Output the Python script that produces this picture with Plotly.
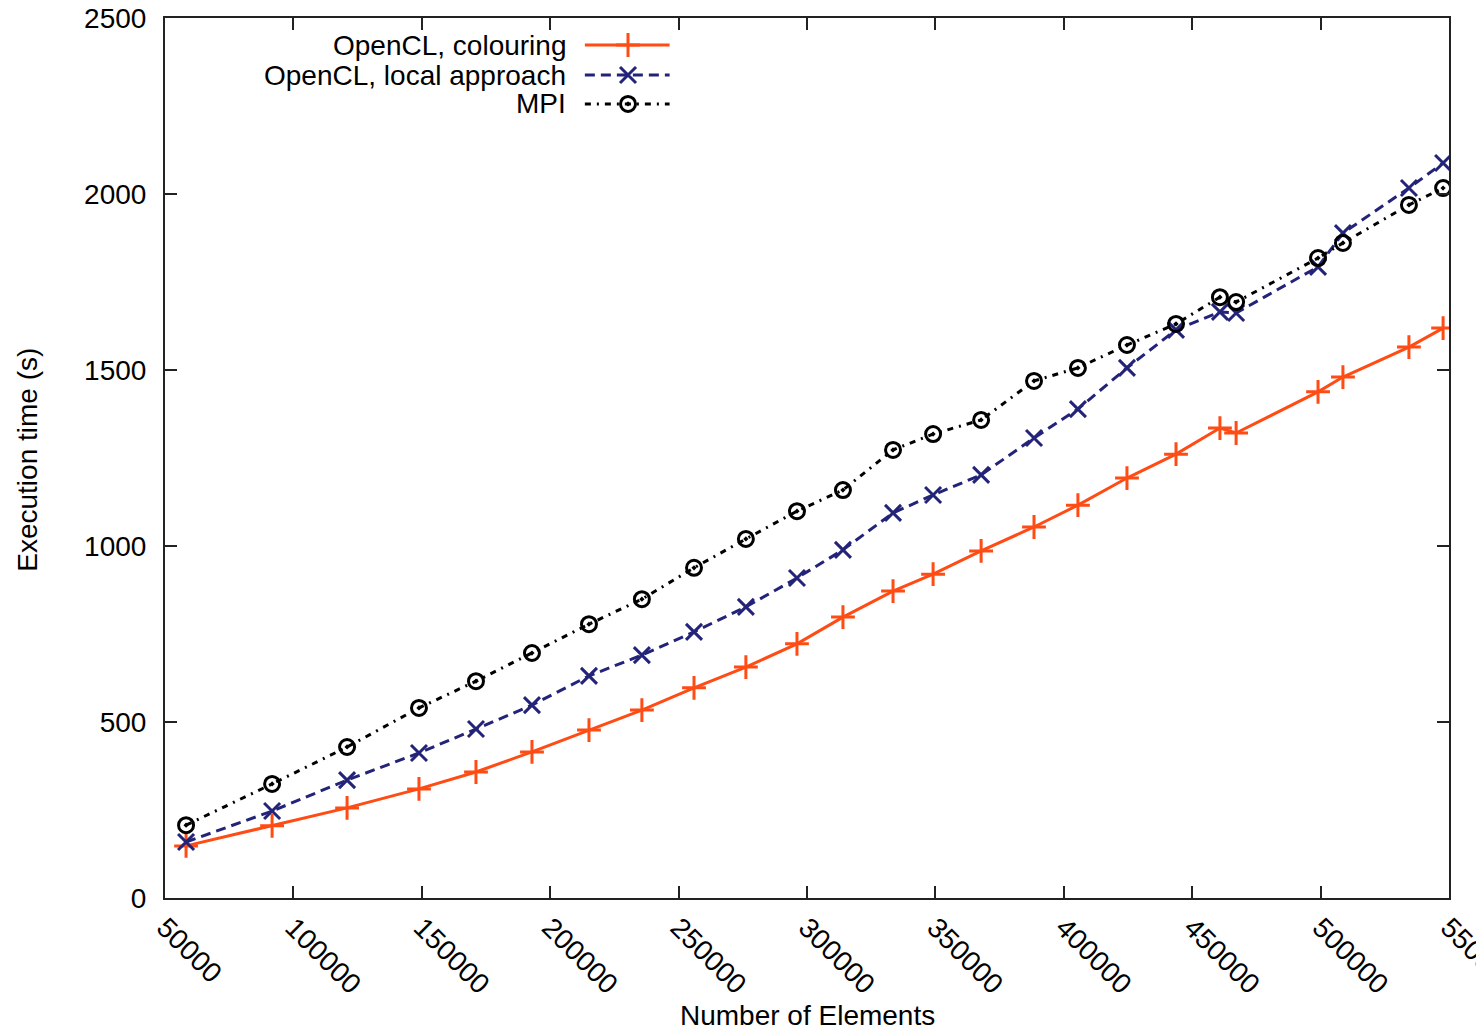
import plotly.graph_objects as go

# ---- data ----
elements = [58200, 91700, 120900, 148900, 171100, 192900, 215100, 235700, 256000,
            276200, 296100, 314000, 333500, 349100, 367800, 388400, 405500, 424600,
            443700, 460800, 467100, 499000, 508700, 534400, 547700]
colouring = [148, 205, 256, 310, 358, 415, 477, 534, 597, 656, 722, 798, 872, 920,
             986, 1054, 1116, 1193, 1261, 1335, 1321, 1438, 1480, 1565, 1619]
local_approach = [159, 247, 335, 412, 480, 548, 631, 690, 756, 827, 909, 989, 1094,
                  1145, 1202, 1307, 1389, 1506, 1614, 1665, 1662, 1793, 1889, 2017, 2088]
mpi = [207, 324, 429, 540, 616, 696, 778, 849, 938, 1020, 1099, 1159, 1273, 1318,
       1358, 1469, 1506, 1571, 1631, 1707, 1693, 1818, 1861, 1969, 2017]

series_names = ["OpenCL, colouring", "OpenCL, local approach", "MPI"]
x_ticks = [50000, 100000, 150000, 200000, 250000, 300000, 350000, 400000, 450000, 500000, 550000]
y_ticks = [0, 500, 1000, 1500, 2000, 2500]
x_title = "Number of Elements"
y_title = "Execution time (s)"

# ---- styles ----
ORANGE = "#ff4b14"
NAVY = "#23237a"
BLACK = "#000000"
FONT = "Liberation Sans, Arial, sans-serif"
FS = 28

styles = [
    dict(color=ORANGE, dash="solid", symbol="cross-thin-open", size=17),
    dict(color=NAVY, dash="10px,6px", symbol="x-thin-open", size=16),
    dict(color=BLACK, dash="6px,6px,2px,6px", symbol="circle-open-dot", size=15),
]

fig = go.Figure()
for name, ys, st in zip(series_names, [colouring, local_approach, mpi], styles):
    fig.add_trace(go.Scatter(
        x=elements, y=ys, mode="lines+markers", name=name, showlegend=False,
        line=dict(color=st["color"], width=3, dash=st["dash"]),
        marker=dict(symbol=st["symbol"], size=st["size"], color=st["color"],
                    line=dict(color=st["color"], width=3)),
    ))

# ---- gnuplot-style key (text right-aligned, sample on right) ----
key_y = [0.9693, 0.9352, 0.9023]
key_x0, key_x1, key_xm, key_text_x = 0.327, 0.393, 0.3606, 0.3139
for name, ky, st in zip(series_names, key_y, styles):
    fig.add_trace(go.Scatter(
        x=[key_x0, key_x1], y=[ky, ky], xaxis="x2", yaxis="y2", mode="lines",
        showlegend=False, hoverinfo="skip",
        line=dict(color=st["color"], width=3, dash=st["dash"]),
    ))
    fig.add_trace(go.Scatter(
        x=[key_xm], y=[ky], xaxis="x2", yaxis="y2", mode="markers",
        showlegend=False, hoverinfo="skip",
        marker=dict(symbol=st["symbol"], size=st["size"], color=st["color"],
                    line=dict(color=st["color"], width=3)),
    ))
    fig.add_annotation(x=key_text_x, y=ky, xref="paper", yref="paper",
                       text=name, showarrow=False, xanchor="right", yanchor="middle",
                       font=dict(family=FONT, size=FS, color="#000000"))

# axis titles as annotations (fixed positions, no automargin)
fig.add_annotation(x=0.5, y=-0.134, xref="paper", yref="paper", text=x_title,
                   showarrow=False, xanchor="center", yanchor="middle",
                   font=dict(family=FONT, size=FS, color="#000000"))
fig.add_annotation(x=-0.1067, y=0.498, xref="paper", yref="paper", text=y_title,
                   showarrow=False, xanchor="center", yanchor="middle", textangle=-90,
                   font=dict(family=FONT, size=FS, color="#000000"))

axis_common = dict(
    showline=True, linecolor="#222222", linewidth=2, mirror="allticks",
    ticks="inside", ticklen=12, tickwidth=1.5, tickcolor="#222222",
    showgrid=False, zeroline=False, automargin=False, ticklabeloverflow="allow",
    tickfont=dict(family=FONT, size=FS, color="#000000"),
)

# the page body adds an ~8px offset, so margins are shifted to compensate
fig.update_layout(
    width=1484, height=1033,
    margin=dict(l=157, r=43, t=10, b=143),
    paper_bgcolor="white", plot_bgcolor="white",
    xaxis=dict(range=[50000, 550000], tickvals=x_ticks,
               ticktext=[str(v) for v in x_ticks], tickangle=45,
               ticklabelstandoff=0, **axis_common),
    yaxis=dict(range=[0, 2500], tickvals=y_ticks, ticklabelstandoff=11,
               **axis_common),
    xaxis2=dict(range=[0, 1], overlaying="x", visible=False, fixedrange=True),
    yaxis2=dict(range=[0, 1], overlaying="y", visible=False, fixedrange=True),
    showlegend=False,
)

fig.write_html("out.html")
